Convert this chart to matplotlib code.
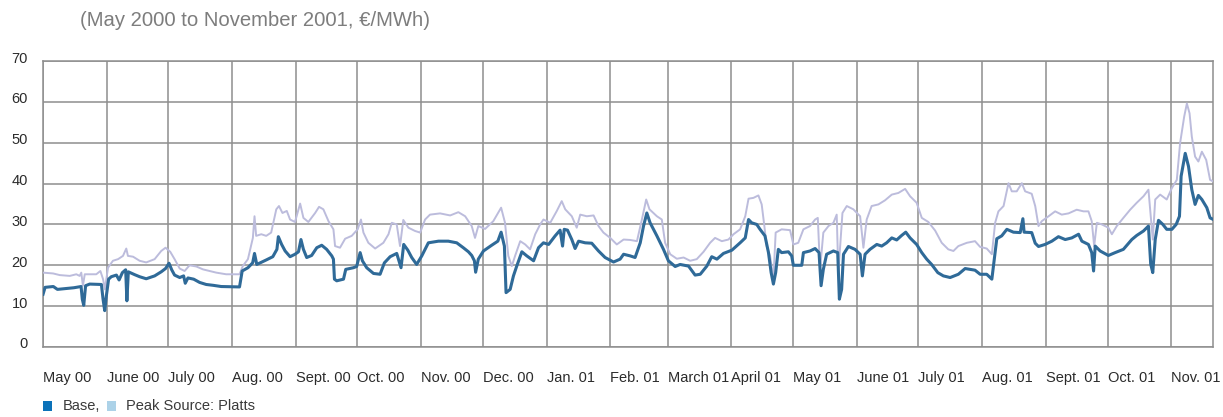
import numpy as np
import pandas as pd
import matplotlib
matplotlib.use('Agg')
import matplotlib.pyplot as plt
from matplotlib.transforms import ScaledTranslation

plt.rcParams['font.family'] = ['Liberation Sans', 'DejaVu Sans']

START = pd.Timestamp('2000-05-01')
END_DAY = 569.3

# days after 1 May 2000, price in EUR/MWh
base_day = [0, 1, 5, 7, 15, 18.5, 19.1, 19.8, 20.7, 22.7, 28.4, 29.2, 30, 30.8, 31.9, 33.2, 35.7, 37, 38.6, 40.2,
            40.8, 41.5, 44.6, 47, 50.2, 54.3, 57.5, 59.6, 61.3, 62.6, 64, 66.5, 68.4, 69.2, 70.5, 73.3, 76.2, 79.4,
            82.7, 86.7, 95.6, 96.9, 99.7, 102, 102.9, 104, 108.6, 111.8, 113.8, 114.5, 116.1, 117.8, 120.2, 122.6,
            124.3, 125.5, 126.7, 128.3, 130.7, 133.2, 135.6, 138, 140.5, 141.3, 141.8, 142.9, 146.2, 147.3, 151,
            152.6, 154.3, 155.4, 157.5, 160.8, 164, 166.1, 168.9, 172.1, 174.2, 175.5, 177.5, 179.4, 181.8, 184.3,
            187.5, 192.4, 197.2, 201.3, 204.5, 207, 208.6, 209.9, 210.5, 211.8, 214.3, 218.3, 221.3, 222.9, 224.5,
            225.3, 227.3, 228.9, 230.5, 233, 235.4, 238.7, 241.1, 243.5, 246, 249.2, 251.6, 252.8, 253.6, 255.2,
            257.3, 258.9, 260.6, 263.8, 267, 270.3, 273.5, 277.6, 280.8, 282.5, 285.7, 288.1, 290.6, 292.2, 293.8,
            295.4, 298.7, 301.9, 304.3, 307.6, 310, 314.1, 317.3, 319.8, 323, 325.4, 327.9, 331.1, 335.2, 339.2,
            341.7, 343.3, 344.8, 347.3, 348.9, 351.3, 353, 354.3, 355.4, 356.5, 357.8, 359.4, 362.7, 364.3, 365.1,
            369.2, 370, 373.2, 375.7, 377.6, 378.6, 379.7, 381.3, 384.6, 386.7, 387.5, 388.6, 389.5, 391.9, 395.1,
            397.6, 398.7, 400, 402.4, 405.7, 408.1, 410.5, 413, 415.4, 417.8, 419.8, 421.9, 425.1, 427.6, 430,
            432.4, 435.4, 438.1, 441.4, 445.4, 448.7, 453.5, 456, 459.2, 461.7, 462.5, 464.1, 466.5, 469, 472.2,
            475.5, 476.8, 477.4, 481.1, 482.8, 484.4, 487.6, 490.9, 494.1, 497.4, 500.6, 503.9, 505.5, 508.7,
            510.3, 511.2, 512, 514.4, 518.4, 521.7, 525.7, 529.8, 532.2, 535.5, 537.9, 539, 540, 541.2, 542.8,
            544.9, 546.8, 549.3, 551.4, 553, 553.8, 555.8, 557.4, 559, 560.6, 562.2, 563.9, 566.3, 567.9, 569.5]
base_eur = [12.9, 14.6, 14.8, 14.1, 14.5, 14.8, 11.7, 10.2, 15.0, 15.4, 15.3, 11.7, 8.9, 12.5, 16.6, 17.2, 17.6, 16.4,
            18.2, 18.9, 11.3, 18.4, 17.7, 17.2, 16.7, 17.4, 18.4, 19.2, 20.5, 18.9, 17.6, 17.0, 17.4, 15.6, 16.9,
            16.6, 15.8, 15.3, 15.1, 14.8, 14.7, 18.6, 19.4, 20.6, 22.9, 20.2, 21.3, 22.1, 23.9, 27.0, 25.1, 23.5,
            22.1, 22.7, 23.3, 26.3, 23.9, 21.9, 22.4, 24.3, 24.9, 23.9, 22.3, 21.5, 16.6, 16.2, 16.6, 19.0, 19.4,
            19.7, 23.1, 21.1, 19.4, 18.0, 17.8, 20.6, 22.1, 22.9, 19.4, 25.1, 23.7, 21.9, 20.2, 22.3, 25.5, 25.9,
            25.9, 25.5, 24.3, 23.3, 22.4, 21.1, 18.3, 21.5, 23.5, 24.9, 25.9, 28.1, 24.7, 13.3, 14.1, 17.4, 19.8,
            23.3, 22.3, 21.1, 24.3, 25.5, 25.1, 27.2, 28.6, 24.7, 28.8, 28.6, 26.3, 24.1, 25.9, 25.5, 25.4, 23.5,
            21.9, 20.8, 21.5, 22.7, 22.3, 21.9, 25.5, 29.6, 32.8, 30.4, 27.2, 23.9, 21.1, 19.7, 20.2, 19.8, 17.6,
            17.8, 19.8, 22.1, 21.5, 22.9, 23.7, 25.5, 26.7, 31.2, 30.4, 30.0, 28.8, 27.2, 23.1, 18.2, 15.4, 18.2,
            23.9, 23.1, 23.3, 22.3, 20.0, 20.0, 23.1, 23.5, 24.1, 23.1, 15.0, 19.0, 22.7, 23.5, 23.1, 11.7, 14.1,
            22.7, 24.6, 23.9, 22.7, 17.4, 22.7, 23.9, 25.1, 24.7, 25.5, 26.7, 26.2, 27.3, 28.1, 26.7, 25.1, 23.1,
            21.5, 20.2, 18.2, 17.4, 17.0, 17.8, 19.2, 18.8, 17.8, 17.8, 16.6, 19.9, 26.5, 27.2, 28.8, 28.1, 28.0,
            31.4, 28.1, 28.0, 25.4, 24.6, 25.1, 25.9, 27.0, 26.3, 26.7, 27.6, 25.9, 25.1, 23.1, 18.6, 24.7, 23.5,
            22.4, 23.1, 23.9, 26.3, 27.3, 28.4, 29.6, 20.3, 18.2, 26.3, 31.0, 30.0, 28.8, 28.8, 30.0, 32.0, 41.8,
            47.4, 44.2, 38.5, 34.9, 37.1, 36.1, 34.1, 31.6, 31.2]

peak_day = [0, 4.9, 8.1, 13, 16.2, 17.8, 18.6, 19.4, 20.3, 25.9, 27.9, 29.2, 30.1, 31.6, 34, 36.5, 38.9, 40.5, 41.3,
            43.8, 47, 50.2, 54.3, 57.5, 59.6, 61.9, 64, 66.5, 68.9, 71.3, 74.6, 77.8, 81, 84.3, 89.1, 95.6, 97.2,
            99.7, 102.1, 102.9, 103.7, 106.2, 108.6, 111, 113.5, 114.8, 116.5, 118.6, 120.2, 122.6, 125.1, 126.7,
            129.1, 132.4, 134.3, 136.4, 138.9, 141.3, 142.1, 144.5, 147, 150.2, 153.1, 154.7, 155.9, 158.3, 161.6,
            165.6, 168.1, 169.7, 172.1, 173.7, 175.3, 177.8, 181, 183.5, 185.9, 188.3, 193.2, 198.1, 202.1, 205.4,
            208.6, 210.2, 211.8, 215.1, 219.1, 222.9, 224.8, 226.4, 228.1, 229.7, 232.2, 234.6, 237, 239.5, 241.9,
            243.5, 246.8, 250, 252.4, 254.1, 257.3, 259.7, 261.4, 264.6, 267.9, 270.3, 272.7, 276, 279.2, 282.5,
            285.7, 289, 291.4, 293.5, 295.1, 298.7, 301.1, 302.7, 305.2, 308.4, 311.7, 314.9, 318.1, 321.4, 324.6,
            327, 330.3, 333.5, 336, 339.2, 341.7, 343.3, 345.7, 348.1, 349.7, 351, 352.1, 353.8, 355.4, 356.5,
            359.4, 363.5, 365.1, 367.5, 370, 373.2, 375.7, 377, 378.1, 379.7, 382.2, 384.6, 386.2, 387, 389, 391.1,
            394.3, 397.6, 399.2, 400.8, 403.2, 406.5, 409.7, 413, 416.2, 419.5, 421.9, 425.1, 427.6, 430.8, 434.1,
            437.3, 440.5, 443, 445.4, 449.5, 453.5, 456, 459.2, 461.7, 463.3, 464.9, 467.4, 469.8, 471.4, 473.8,
            476.3, 477.9, 481.1, 482.8, 484.4, 486, 489.3, 492.5, 495.7, 499, 503, 506.3, 508.7, 510.3, 511.5,
            512.8, 515.2, 518.4, 520.1, 522.5, 525.7, 529, 532.2, 535.5, 537.9, 539, 540, 541.2, 543.6, 546.8,
            549.3, 551.7, 553.3, 555.3, 556.6, 557.9, 559, 560.6, 562.2, 563.9, 566, 567.9, 569.5]
peak_eur = [18.2, 18.0, 17.6, 17.4, 17.8, 17.4, 18.2, 15.0, 17.8, 17.8, 18.6, 16.6, 14.1, 19.4, 21.1, 21.5, 22.3, 24.1,
            22.3, 22.1, 21.1, 20.7, 21.5, 23.5, 24.3, 23.3, 21.5, 19.2, 18.6, 20.0, 19.7, 19.0, 18.6, 18.2, 17.8,
            17.8, 19.8, 21.5, 26.7, 32.0, 27.2, 27.6, 27.2, 28.0, 33.7, 34.5, 32.8, 33.3, 31.2, 30.6, 35.1, 31.6,
            30.6, 32.8, 34.3, 33.7, 30.8, 28.8, 24.7, 24.3, 26.5, 27.2, 28.8, 31.2, 28.0, 25.5, 24.1, 25.5, 27.6,
            30.4, 30.0, 24.7, 31.1, 29.2, 28.4, 28.0, 31.2, 32.4, 32.7, 32.2, 33.0, 32.0, 29.6, 26.7, 29.6, 28.9,
            30.8, 34.1, 30.4, 22.3, 19.8, 22.3, 25.9, 25.1, 23.9, 27.6, 30.0, 31.2, 30.4, 33.3, 35.7, 33.7, 32.0,
            29.2, 32.4, 32.0, 32.2, 29.6, 28.0, 26.7, 25.1, 26.3, 26.2, 25.9, 31.2, 36.1, 33.7, 32.0, 31.2, 25.5,
            22.7, 21.6, 21.9, 21.1, 21.5, 23.3, 25.5, 26.7, 25.9, 26.3, 27.6, 28.8, 32.0, 36.3, 36.5, 37.1, 34.9,
            29.6, 24.7, 22.3, 16.6, 28.0, 28.8, 28.6, 25.1, 25.5, 28.8, 29.6, 31.2, 31.6, 19.0, 28.0, 29.6, 30.4,
            32.4, 18.2, 32.8, 34.5, 33.7, 32.0, 24.3, 31.2, 34.5, 34.9, 35.9, 37.3, 37.7, 38.7, 36.9, 35.3, 31.6,
            30.6, 28.5, 25.5, 23.9, 23.5, 24.7, 25.5, 25.9, 24.5, 24.1, 22.7, 30.4, 33.2, 34.5, 40.1, 38.1, 38.1,
            40.1, 38.1, 37.5, 34.5, 29.6, 30.8, 32.0, 33.2, 32.4, 32.7, 33.6, 33.2, 33.2, 30.8, 24.7, 30.4, 30.0,
            29.2, 27.6, 29.6, 31.6, 33.6, 35.3, 36.9, 38.5, 32.0, 26.3, 36.1, 37.3, 36.1, 38.9, 40.9, 49.9, 56.4,
            59.6, 57.2, 51.5, 46.6, 45.4, 47.8, 45.8, 40.9, 40.5]

month_labels = ['May 00', 'June 00', 'July 00', 'Aug. 00', 'Sept. 00', 'Oct. 00', 'Nov. 00', 'Dec. 00',
                'Jan. 01', 'Feb. 01', 'March 01', 'April 01', 'May 01', 'June 01', 'July 01', 'Aug. 01',
                'Sept. 01', 'Oct. 01', 'Nov. 01']
y_ticks = [0, 10, 20, 30, 40, 50, 60, 70]


def to_dates(days):
    return START + pd.to_timedelta(np.asarray(days, dtype=float), unit='D')


fig = plt.figure(figsize=(12.23, 4.17), dpi=100)
ax = fig.add_axes([0.0352, 0.1679, 0.9566, 0.6858])

grid_col = '#8e8e8e'
ax.plot(to_dates(peak_day), peak_eur, color='#bcbcdc', linewidth=1.4, zorder=3)
ax.plot(to_dates(base_day), base_eur, color='#2f6a98', linewidth=2.2, zorder=4)

month_starts = pd.date_range('2000-05-01', periods=len(month_labels), freq='MS')
ax.set_xlim(START, START + pd.Timedelta(days=END_DAY))
ax.set_ylim(0, 70)
ax.set_xticks(month_starts)
ax.set_xticklabels(month_labels, ha='left')
ax.set_yticks(y_ticks)
ax.set_yticklabels([str(v) for v in y_ticks])

ax.grid(True, color=grid_col, linewidth=1.1)
ax.set_axisbelow(True)
for s in ax.spines.values():
    s.set_color(grid_col)
    s.set_linewidth(1.1)
ax.tick_params(axis='both', length=0, labelsize=10.5, colors='#2b2b2b')
ax.tick_params(axis='x', pad=17)
ax.tick_params(axis='y', pad=11)
for lbl in ax.get_yticklabels():
    lbl.set_transform(lbl.get_transform() + ScaledTranslation(0, 0.04, fig.dpi_scale_trans))

fig.text(80 / 1223, 1 - 20 / 417, '(May 2000 to November 2001, €/MWh)', fontsize=14.6,
         color='#7d7d7d', ha='left', va='center')

# legend line at the foot
fig.patches.append(plt.Rectangle((43 / 1223, 1 - 411 / 417), 9 / 1223, 10 / 417, transform=fig.transFigure,
                                 facecolor='#0b72b9', edgecolor='none'))
fig.patches.append(plt.Rectangle((107 / 1223, 1 - 411 / 417), 9 / 1223, 10 / 417, transform=fig.transFigure,
                                 facecolor='#acd2e8', edgecolor='none'))
fig.text(63 / 1223, 1 - 406 / 417, 'Base,', fontsize=10.5, color='#3a3a3a', ha='left', va='center')
fig.text(126 / 1223, 1 - 406 / 417, 'Peak Source: Platts', fontsize=10.5, color='#3a3a3a', ha='left', va='center')

fig.savefig('out.png', dpi=100)
